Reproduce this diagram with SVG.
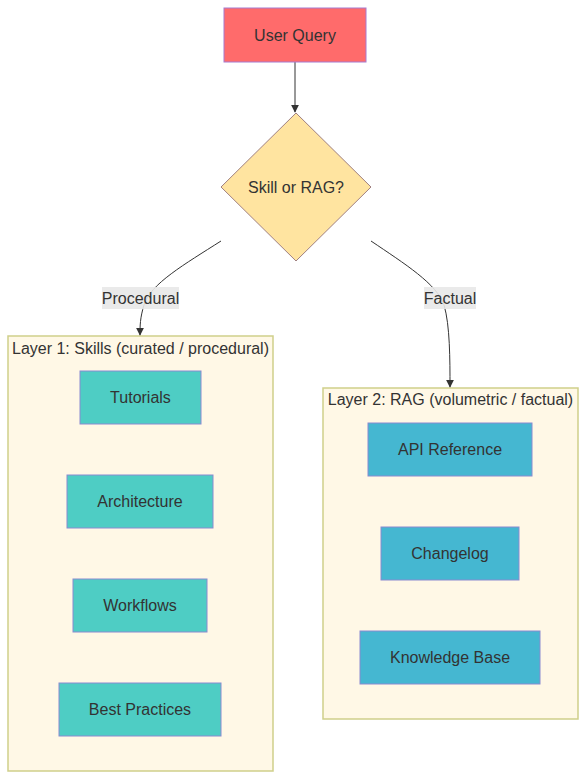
<svg xmlns="http://www.w3.org/2000/svg" width="586" height="780" viewBox="0 0 586 780">
<style>
text{font-family:"Liberation Sans",Arial,sans-serif;font-size:16px;fill:#333;text-anchor:middle;dominant-baseline:central}
.cluster rect{fill:#fff8e6;stroke:#cfcf8a;stroke-width:1.5}
.skill{fill:#4ecdc4;stroke:#8a8ad0;stroke-width:1}
.rag{fill:#45b7d1;stroke:#8a8ad0;stroke-width:1}
.edge{fill:none;stroke:#333;stroke-width:1}
.lbl{fill:#e8e8e8;opacity:0.9}
</style>
<defs>
<marker id="arr" viewBox="0 0 10 10" refX="9" refY="5" markerWidth="8" markerHeight="8" markerUnits="userSpaceOnUse" orient="auto">
<path d="M0,0 L10,5 L0,10 z" fill="#333"/>
</marker>
</defs>
<rect width="586" height="780" fill="#fff"/>
<g id="layer1" class="cluster">
<rect x="8" y="336" width="265" height="435"/>
<text x="140.5" y="348">Layer 1: Skills (curated / procedural)</text>
</g>
<g id="layer2" class="cluster">
<rect x="323" y="388" width="255" height="331"/>
<text x="450.5" y="399">Layer 2: RAG (volumetric / factual)</text>
</g>
<g id="connectors">
<path class="edge" d="M295,62 L295,112" marker-end="url(#arr)"/>
<path class="edge" d="M221,241 C185,264 150,284 144,305 C140,318 140,326 140,335" marker-end="url(#arr)"/>
<path class="edge" d="M371,241 C405,264 437,284 444,305 C450,325 450,360 450,387" marker-end="url(#arr)"/>
<rect class="lbl" x="102" y="287" width="77" height="22"/>
<text x="140.5" y="298">Procedural</text>
<rect class="lbl" x="424" y="287" width="52" height="22"/>
<text x="450" y="298">Factual</text>
</g>
<g id="user-query">
<rect x="224" y="8" width="142" height="54" fill="#ff6b6b" stroke="#a67bd0" stroke-width="1"/>
<text x="295" y="35">User Query</text>
</g>
<g id="decision">
<polygon points="296,113 371,187 296,261 221,187" fill="#ffe4a0" stroke="#a08080" stroke-width="1"/>
<text x="296" y="187">Skill or RAG?</text>
</g>
<g id="tutorials"><rect class="skill" x="80" y="371" width="121" height="53"/><text x="140.5" y="397.5">Tutorials</text></g>
<g id="architecture"><rect class="skill" x="67" y="475" width="146" height="53"/><text x="140" y="501.5">Architecture</text></g>
<g id="workflows"><rect class="skill" x="73" y="579" width="134" height="53"/><text x="140" y="605.5">Workflows</text></g>
<g id="best-practices"><rect class="skill" x="59" y="683" width="162" height="53"/><text x="140" y="709.5">Best Practices</text></g>
<g id="api-reference"><rect class="rag" x="368" y="423" width="164" height="53"/><text x="450" y="449.5">API Reference</text></g>
<g id="changelog"><rect class="rag" x="381" y="527" width="138" height="53"/><text x="450" y="553.5">Changelog</text></g>
<g id="knowledge-base"><rect class="rag" x="360" y="631" width="180" height="53"/><text x="450" y="657.5">Knowledge Base</text></g>
</svg>
